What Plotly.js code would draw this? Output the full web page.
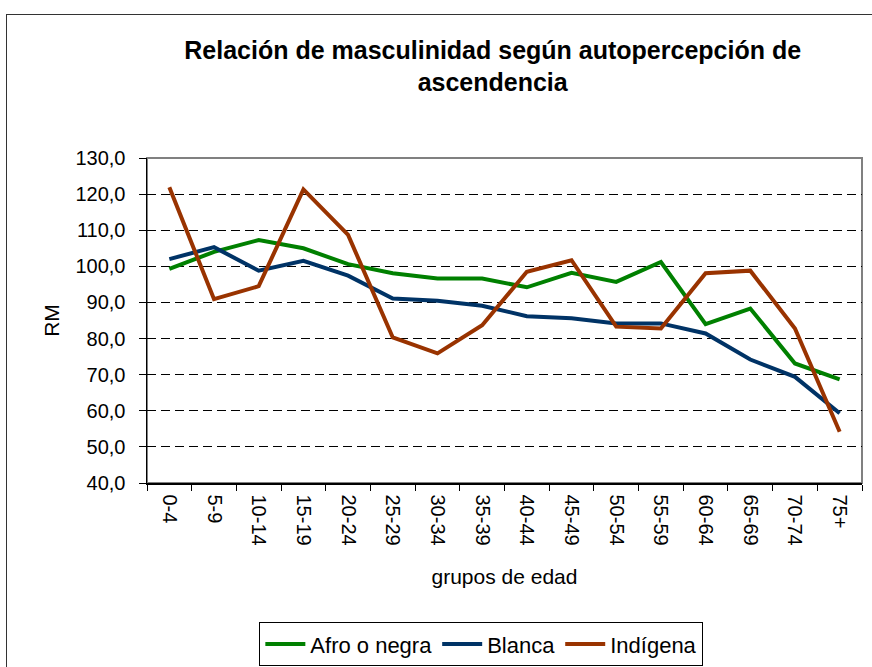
<!DOCTYPE html>
<html>
<head>
<meta charset="utf-8">
<script src="https://cdn.plot.ly/plotly-3.0.1.min.js"></script>
<style>
  body { margin: 0; background: #ffffff; }
  #wrap { position: relative; width: 872px; height: 667px; overflow: hidden; }
  #chart { width: 872px; height: 667px; }
  /* marco exterior del gráfico */
  #frame { position: absolute; left: 6px; top: 14px; width: 900px; height: 700px;
           border: 1.5px solid #333333; pointer-events: none; }
</style>
</head>
<body>
<div id="wrap">
  <div id="chart"></div>
  <div id="frame"></div>
</div>
<script>
// grupos de edad
var grupos = ['0-4', '5-9', '10-14', '15-19', '20-24', '25-29', '30-34', '35-39',
              '40-44', '45-49', '50-54', '55-59', '60-64', '65-69', '70-74', '75+'];

// relación de masculinidad (RM) por ascendencia
var afroNegra = [99.3, 104.0, 107.3, 105.0, 100.6, 98.1, 96.6, 96.6,
                 94.2, 98.2, 95.7, 101.2, 84.0, 88.3, 73.1, 68.7];
var blanca    = [102.0, 105.3, 98.8, 101.5, 97.4, 91.1, 90.5, 89.1,
                 86.2, 85.6, 84.2, 84.2, 81.4, 74.2, 69.4, 59.3];
var indigena  = [121.9, 90.9, 94.5, 121.3, 108.7, 80.3, 75.9, 83.7,
                 98.5, 101.7, 83.3, 82.8, 98.1, 98.8, 82.8, 54.2];

var yTicks = [40, 50, 60, 70, 80, 90, 100, 110, 120, 130];

const trace1 = {
    x: grupos,
    y: afroNegra,
    type: 'scatter',
    mode: 'lines',
    name: 'Afro o negra',
    line: { color: '#008000', width: 4 }
};

const trace2 = {
    x: grupos,
    y: blanca,
    type: 'scatter',
    mode: 'lines',
    name: 'Blanca',
    line: { color: '#003366', width: 4 }
};

const trace3 = {
    x: grupos,
    y: indigena,
    type: 'scatter',
    mode: 'lines',
    name: 'Indígena',
    line: { color: '#993300', width: 4 }
};

const layout = {
    width: 872,
    height: 667,
    font: { family: 'Liberation Sans, Arial, sans-serif', color: '#000000' },
    separators: ',.',
    paper_bgcolor: '#ffffff',
    plot_bgcolor: '#ffffff',
    title: {
        text: '<b>Relación de masculinidad según autopercepción de<br>ascendencia</b>',
        font: { family: 'Liberation Sans, Arial, sans-serif', size: 25 },
        xref: 'container',
        x: 0.565,
        xanchor: 'center',
        yref: 'container',
        y: 0.912,
        yanchor: 'top'
    },
    xaxis: {
        type: 'category',
        range: [-0.5, 15.5],
        automargin: false,
        tickangle: 90,
        tickfont: { size: 20 },
        ticks: 'outside',
        tickson: 'boundaries',
        ticklen: 6,
        tickcolor: '#000000',
        ticklabelstandoff: 6,
        showline: true,
        linecolor: '#000000',
        linewidth: 1.5,
        showgrid: false,
        title: { text: 'grupos de edad', font: { size: 21 }, standoff: 24 }
    },
    yaxis: {
        range: [40, 130],
        automargin: false,
        tickvals: yTicks,
        tickformat: '.1f',
        tickfont: { size: 20 },
        ticks: 'outside',
        ticklen: 7,
        tickcolor: '#000000',
        ticklabelstandoff: 9,
        showline: true,
        linecolor: '#000000',
        linewidth: 1.5,
        showgrid: true,
        gridcolor: '#000000',
        gridwidth: 1,
        griddash: '9px,5px',
        zeroline: false,
        title: { text: 'RM', font: { size: 21 }, standoff: 10 }
    },
    legend: {
        orientation: 'h',
        xref: 'container',
        yref: 'container',
        x: 0.552,
        y: 0.067,
        xanchor: 'center',
        yanchor: 'top',
        font: { size: 22 },
        bordercolor: '#000000',
        borderwidth: 1,
        bgcolor: '#ffffff',
        itemwidth: 40
    },
    margin: {
        l: 147,  // left margin
        r: 10,   // right margin
        t: 158,  // top margin
        b: 184,  // bottom margin
        autoexpand: false
    },
    shapes: [
        // borde gris del área de trazado
        { type: 'rect', xref: 'paper', yref: 'paper', x0: 0, x1: 1, y0: 0, y1: 1,
          line: { color: '#808080', width: 2 }, layer: 'below' }
    ],
    showlegend: true,
    hovermode: false
};

Plotly.newPlot('chart', [trace1, trace2, trace3], layout, { displayModeBar: false, staticPlot: true });
</script>
</body>
</html>
